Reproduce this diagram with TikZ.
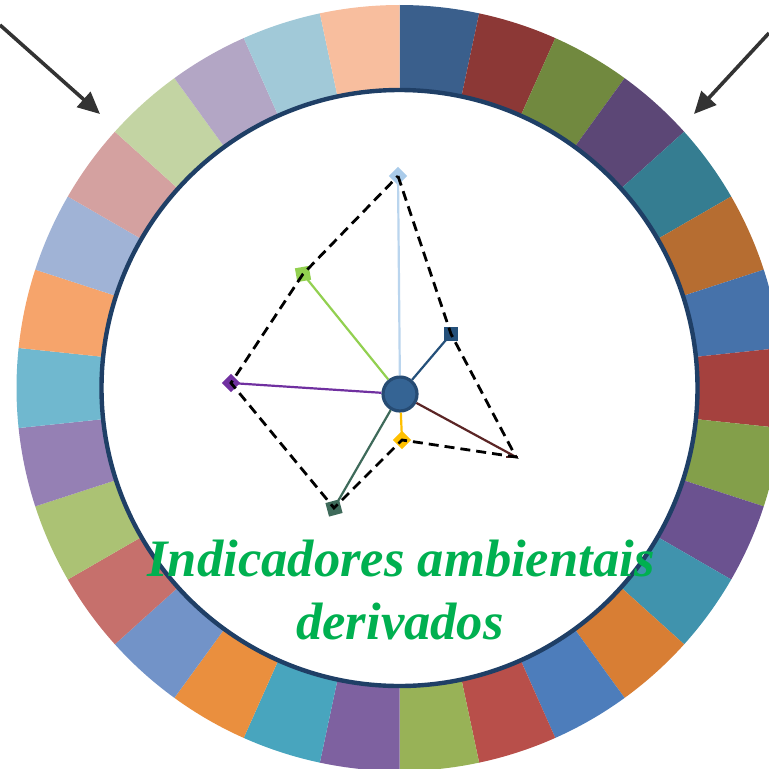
\documentclass[tikz,border=0pt]{standalone}
\usepackage{fontspec}
\setmainfont{Liberation Serif}
\usetikzlibrary{arrows.meta}
\definecolor{rimline}{HTML}{1F3F66}
\definecolor{hubfill}{HTML}{356494}
\definecolor{hubline}{HTML}{264B73}
\definecolor{txtgreen}{HTML}{00B050}
\definecolor{ptop}{HTML}{A9CBEA}
\definecolor{pgreen}{HTML}{92D050}
\definecolor{pdblue}{HTML}{24507A}
\definecolor{ppurple}{HTML}{7030A0}
\definecolor{pyellow}{HTML}{FFC000}
\definecolor{pdgreen}{HTML}{3E6A5A}
\definecolor{pmaroon}{HTML}{5B2525}
\begin{document}
\begin{tikzpicture}[x=0.5pt,y=0.5pt]
    \tikzstyle{marker}=[rectangle, inner sep=0pt, minimum size=7pt]
    \tikzstyle{spoke}=[line width=1.1pt]
    \tikzstyle{bigarrow}=[line width=1.8pt, draw=black!80, -{Triangle[length=11pt,width=10pt]}]
    \clip (0,0) rectangle (769,768);
    \useasboundingbox (0,0) rectangle (769,768);
    %ring of 30 coloured segments
    \begin{scope}[shift={(399.5,380)}]
    \foreach \c [count=\i from 0] in {3A5F8C,8C3836,71893F,5C4776,357D91,B66D31,
        4672AA,A5413E,839F4A,6B5290,4093AD,D87E34,
        4D7DBB,B84F4A,98B257,7E61A0,48A5BE,EA8F3E,
        7293C8,C6706C,ABC274,9580B4,70B8CF,F6A46B,
        A0B3D6,D4A1A0,C3D4A3,B3A6C5,A1C9D8,F8BE9E}{
      \definecolor{seg}{HTML}{\c}
      \pgfmathsetmacro{\a}{90-12*\i}
      \pgfmathsetmacro{\b}{78-12*\i}
      \fill[seg] (\a:383) arc[start angle=\a, end angle=\b, radius=383]
        -- (\b:290) arc[start angle=\b, end angle=\a, radius=290] -- cycle;
    }
    \draw[rimline, line width=2.2pt, fill=white] (0,0) circle[radius=298];
    \end{scope}
    %arrows
    \coordinate (la) at (0,743);
    \coordinate (lt) at (100,654);
    \coordinate (ra) at (769,735);
    \coordinate (rt) at (694,654);
    \draw[bigarrow] (la) -- (lt);
    \draw[bigarrow] (ra) -- (rt);
    %radar points
    \node[marker, fill=ptop, rotate=45, minimum size=6.5pt] (mtop) at (398,592){};
    \node[marker, fill=pgreen, rotate=10] (mgreen) at (303,494){};
    \node[marker, fill=pdblue] (mdblue) at (451,434){};
    \node[marker, fill=ppurple, rotate=45, minimum size=6.5pt] (mpurple) at (231,385){};
    \node[marker, fill=pyellow, rotate=45, minimum size=6.5pt] (myellow) at (402,328){};
    \node[marker, fill=pdgreen, rotate=15] (mdgreen) at (334,260){};
    \node[rectangle, inner sep=0pt, minimum width=6pt, minimum height=1pt, fill=pmaroon] (mmaroon) at (512,311){};
    \node[circle, fill=hubfill, draw=hubline, line width=1.6pt, minimum size=17pt, inner sep=0pt] (hub) at (400,374){};
    %spokes
    \draw[spoke, ptop!80!white] (hub) -- (mtop.center);
    \draw[spoke, pgreen] (hub) -- (mgreen.center);
    \draw[spoke, pdblue] (hub) -- (mdblue.center);
    \draw[spoke, ppurple] (hub) -- (mpurple.center);
    \draw[spoke, pyellow] (hub) -- (myellow.center);
    \draw[spoke, pdgreen] (hub) -- (mdgreen.center);
    \draw[spoke, pmaroon] (hub) -- (516,311);
    \draw[black, line width=1.4pt, dash pattern=on 5pt off 3pt]
      (mtop.center) -- (mdblue.center) -- (516,311) -- (myellow.center)
      -- (mdgreen.center) -- (mpurple.center) -- (mgreen.center) -- cycle;
    %title
    \node[anchor=base, text=txtgreen, font=\fontsize{26.3}{31}\selectfont\bfseries\itshape] (title1) at (401,192){Indicadores ambientais};
    \node[anchor=base, text=txtgreen, font=\fontsize{26.3}{31}\selectfont\bfseries\itshape] (title2) at (400,129){derivados};
\end{tikzpicture}
\end{document}
